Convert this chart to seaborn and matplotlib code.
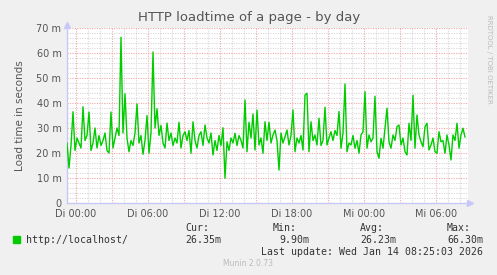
import numpy as np
import pandas as pd
import matplotlib
matplotlib.use("Agg")
import matplotlib.pyplot as plt
import seaborn as sns

# ---- data (load time in milliseconds, one reading every 10 minutes) ----
start_hour = -0.75          # first sample relative to "Di 00:00"
step_minutes = 10
load_ms = [
    24, 14, 23, 36.5, 21, 26, 24, 22, 38.5, 25,
    27, 36.4, 21, 24, 30, 22, 27, 23, 25, 28,
    21, 20, 36.4, 22, 26, 30, 27, 66.3, 28, 43.7,
    26, 20.5, 25, 23, 28, 39.6, 24, 27, 19.5, 25,
    35, 19.9, 28, 60.4, 30, 37.7, 27, 31, 24, 22,
    32, 25, 28, 23, 26, 24, 32.3, 22, 27, 28.5,
    25, 29, 19.9, 32.5, 25, 22, 27, 28.5, 23, 31.2,
    26, 24, 28, 19.2, 25, 21, 27, 23, 30.1, 9.9,
    24.5, 21, 26, 24, 27.9, 23, 27, 25, 22, 41.2,
    20.5, 32.3, 26, 35.6, 21.2, 37.2, 23.2, 26, 19.9, 32.5,
    25, 32.3, 24, 27.2, 29.2, 25, 13.2, 28, 24, 26.5,
    29.2, 23.2, 27, 37.2, 20.5, 26, 24, 27, 21.2, 43.2,
    43.9, 20.5, 32.5, 25, 27.2, 23.2, 33.9, 23, 25, 38.3,
    23.2, 26, 28.5, 25, 29, 27, 36.6, 21.9, 28, 47.6,
    20.5, 24, 23.2, 27, 21.9, 25, 19.9, 27.2, 28.5, 44.5,
    21.9, 27.2, 24.5, 26, 42.7, 20.5, 17.9, 25.9, 21.9, 29.9,
    37.9, 24.5, 21.9, 27.2, 25, 30.5, 31.2, 23.2, 26, 20.5,
    19.2, 31.9, 25, 43.1, 21.9, 35.2, 27.2, 24.5, 22.5, 30.5,
    31.9, 21.2, 23.2, 26, 20.5, 19.9, 28.5, 24.5, 25, 19.9,
    27.2, 23.2, 17.2, 27.2, 25, 31.9, 21.9, 27.2, 29.9, 26.35,
]
series_label = "http://localhost/"
x_tick_hours = [0, 6, 12, 18, 24, 30]
x_tick_labels = ["Di 00:00", "Di 06:00", "Di 12:00", "Di 18:00", "Mi 00:00", "Mi 06:00"]
y_tick_values = [0, 10, 20, 30, 40, 50, 60, 70]
y_tick_labels = ["0", "10 m", "20 m", "30 m", "40 m", "50 m", "60 m", "70 m"]
stat_names = ["Cur:", "Min:", "Avg:", "Max:"]
stat_values = ["26.35m", "9.90m", "26.23m", "66.30m"]

hours = start_hour + np.arange(len(load_ms)) * step_minutes / 60.0
df = pd.DataFrame({"hour": hours, "ms": load_ms})

sns.set_style("white")
W, H = 497, 275
fig = plt.figure(figsize=(W / 100, H / 100), dpi=100, facecolor="#F0F0F0")
L, R, T, B = 67, 468, 28, 203
ax = fig.add_axes([L / W, 1 - B / H, (R - L) / W, (B - T) / H])
ax.set_facecolor("white")

x0, x1 = -0.75, 32.667
ax.set_xlim(x0, x1)
ax.set_ylim(0, 70)

# grid
for h in np.arange(0, 33, 1):
    col = "#F0A8A8" if h % 3 == 0 else "#D8D8D8"
    ax.axvline(h, color=col, lw=0.8, ls=(0, (1, 1.2)), zorder=1)
for v in np.arange(2, 71, 2):
    col = "#F0A8A8" if v % 10 == 0 else "#D8D8D8"
    ax.axhline(v, color=col, lw=0.8, ls=(0, (1, 1.2)), zorder=1)

sns.lineplot(data=df, x="hour", y="ms", ax=ax, color="#00CC00", lw=1.0, zorder=3, legend=False)

for s in ["top", "right"]:
    ax.spines[s].set_visible(False)
for s in ["left", "bottom"]:
    ax.spines[s].set_color("#C8C8F8")
    ax.spines[s].set_linewidth(1.0)
ax.plot([0], [1.018], marker="^", ms=4, color="#C8C8F8", transform=ax.transAxes, clip_on=False)
ax.plot([1.006], [0], marker=">", ms=4, color="#C8C8F8", transform=ax.transAxes, clip_on=False)

ax.set_xticks(x_tick_hours)
ax.set_xticklabels(x_tick_labels)
ax.set_yticks(y_tick_values)
ax.set_yticklabels(y_tick_labels)
ax.tick_params(axis="both", length=0, pad=4, labelsize=7, labelcolor="#555555")
ax.set_xlabel("")
ax.set_ylabel("Load time in seconds", fontsize=7.5, color="#555555", labelpad=8)

fig.text(249 / W, 1 - 18 / H, "HTTP loadtime of a page - by day", ha="center", va="center",
         fontsize=9.5, color="#555555")
fig.text(489 / W, 1 - 15 / H, "RRDTOOL / TOBI OETIKER", rotation=270, ha="center", va="top",
         fontsize=5, color="#BBBBBB")

mono = "DejaVu Sans Mono"
fig.patches.append(plt.Rectangle((13 / W, 1 - 243 / H), 7 / W, 7 / H, transform=fig.transFigure,
                                 color="#00CC00", figure=fig))
fig.text(26 / W, 1 - 240 / H, series_label, fontsize=7.1, family=mono, color="#333333", va="center")
name_x = [185, 273, 360, 447]
for nx, name, val in zip(name_x, stat_names, stat_values):
    fig.text(nx / W, 1 - 228 / H, name, fontsize=7.1, family=mono, color="#333333", va="center")
for rx, val in zip([221, 309, 396, 483], stat_values):
    fig.text(rx / W, 1 - 240 / H, val, fontsize=7.1, family=mono, color="#333333", va="center", ha="right")
fig.text(483 / W, 1 - 252 / H, "Last update: Wed Jan 14 08:25:03 2026", fontsize=7.1, family=mono,
         color="#333333", va="center", ha="right")
fig.text(248 / W, 1 - 264 / H, "Munin 2.0.73", fontsize=5.5, color="#BBBBBB", va="center", ha="center")

fig.savefig("out.png", dpi=100, facecolor=fig.get_facecolor())
